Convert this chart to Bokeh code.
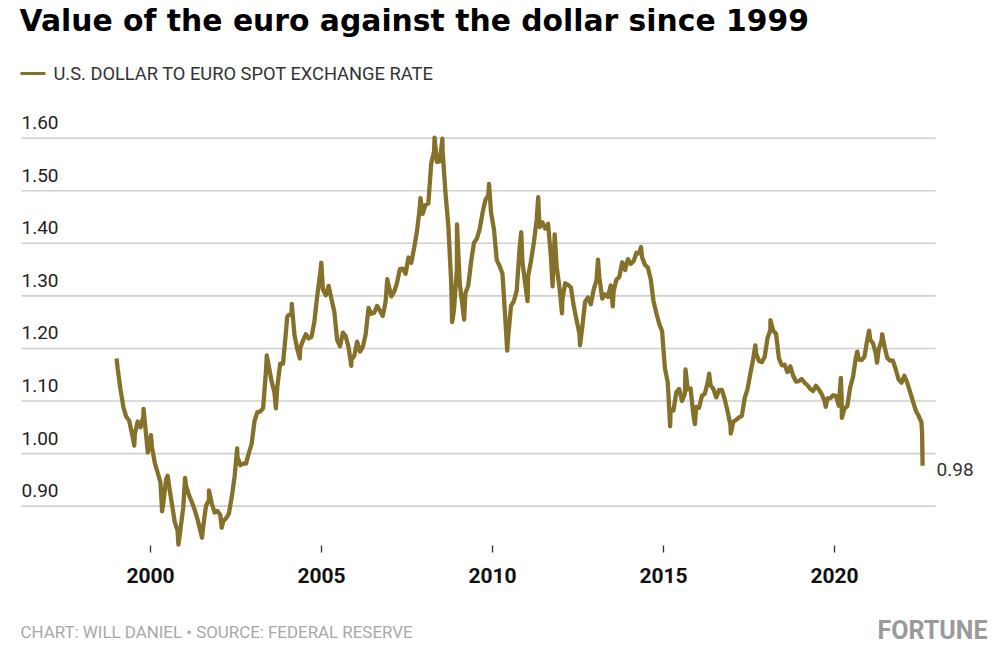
import datetime
from bokeh.plotting import figure
from bokeh.models import Range1d
from bokeh.core.properties import value
from bokeh.embed import file_html
from bokeh.resources import INLINE

# ---------------- data (monthly values) ----------------
rates_1999 = [1.161, 1.121, 1.088, 1.070, 1.063, 1.038, 1.037, 1.061, 1.050, 1.071, 1.033, 1.011]
rates_2000 = [1.013, 0.983, 0.964, 0.945, 0.906, 0.951, 0.939, 0.905, 0.870, 0.853, 0.855, 0.898]
rates_2001 = [0.938, 0.921, 0.908, 0.893, 0.875, 0.853, 0.862, 0.901, 0.911, 0.905, 0.888, 0.891]
rates_2002 = [0.883, 0.871, 0.877, 0.886, 0.917, 0.956, 0.994, 0.978, 0.981, 0.981, 1.001, 1.019]
rates_2003 = [1.062, 1.079, 1.080, 1.086, 1.156, 1.167, 1.137, 1.116, 1.127, 1.171, 1.171, 1.230]
rates_2004 = [1.264, 1.264, 1.226, 1.199, 1.200, 1.215, 1.227, 1.219, 1.222, 1.251, 1.300, 1.341]
rates_2005 = [1.312, 1.301, 1.319, 1.294, 1.270, 1.216, 1.204, 1.230, 1.223, 1.202, 1.179, 1.186]
rates_2006 = [1.213, 1.194, 1.203, 1.227, 1.277, 1.266, 1.268, 1.281, 1.272, 1.262, 1.289, 1.321]
rates_2007 = [1.299, 1.308, 1.325, 1.351, 1.352, 1.342, 1.373, 1.363, 1.391, 1.423, 1.468, 1.456]
rates_2008 = [1.473, 1.476, 1.552, 1.575, 1.555, 1.556, 1.576, 1.496, 1.434, 1.327, 1.274, 1.351]
rates_2009 = [1.324, 1.280, 1.305, 1.320, 1.365, 1.401, 1.409, 1.427, 1.458, 1.482, 1.491, 1.458]
rates_2010 = [1.427, 1.368, 1.357, 1.342, 1.256, 1.222, 1.281, 1.290, 1.310, 1.390, 1.365, 1.322]
rates_2011 = [1.337, 1.366, 1.401, 1.445, 1.431, 1.440, 1.428, 1.437, 1.375, 1.373, 1.356, 1.316]
rates_2012 = [1.291, 1.324, 1.321, 1.316, 1.281, 1.254, 1.228, 1.241, 1.289, 1.297, 1.284, 1.312]
rates_2013 = [1.330, 1.335, 1.295, 1.303, 1.298, 1.320, 1.309, 1.331, 1.336, 1.364, 1.349, 1.370]
rates_2014 = [1.361, 1.366, 1.382, 1.381, 1.373, 1.359, 1.354, 1.332, 1.290, 1.267, 1.247, 1.233]
rates_2015 = [1.162, 1.135, 1.084, 1.082, 1.117, 1.123, 1.100, 1.114, 1.122, 1.124, 1.073, 1.089]
rates_2016 = [1.087, 1.110, 1.114, 1.135, 1.130, 1.123, 1.107, 1.121, 1.121, 1.103, 1.080, 1.054]
rates_2017 = [1.061, 1.064, 1.069, 1.072, 1.106, 1.123, 1.153, 1.181, 1.191, 1.176, 1.174, 1.184]
rates_2018 = [1.220, 1.235, 1.234, 1.228, 1.181, 1.168, 1.169, 1.155, 1.166, 1.148, 1.137, 1.138]
rates_2019 = [1.142, 1.135, 1.130, 1.123, 1.119, 1.129, 1.122, 1.113, 1.100, 1.105, 1.105, 1.111]
rates_2020 = [1.110, 1.091, 1.106, 1.086, 1.090, 1.126, 1.146, 1.183, 1.179, 1.178, 1.184, 1.217]
rates_2021 = [1.217, 1.210, 1.190, 1.198, 1.215, 1.205, 1.182, 1.177, 1.177, 1.160, 1.141, 1.135]
rates_2022 = [1.148, 1.135, 1.118, 1.100, 1.082, 1.072, 1.060]

# local highs / lows visible in the chart
extreme_dates = ["1999-01-04", "1999-07-12", "1999-10-19", "1999-12-03", "2000-01-06",
                 "2000-05-04", "2000-07-03", "2000-10-26", "2001-01-05", "2001-07-05",
                 "2001-09-17", "2002-01-31", "2002-07-15", "2003-05-27", "2003-09-01",
                 "2003-12-31", "2004-02-18", "2004-05-14", "2004-12-30", "2005-11-15",
                 "2006-12-04", "2007-11-23", "2008-04-22", "2008-07-15", "2008-10-27",
                 "2008-12-18", "2009-03-04", "2009-11-25", "2010-06-07", "2010-11-04",
                 "2011-01-10", "2011-05-04", "2011-10-04", "2011-10-27", "2012-01-13",
                 "2012-07-24", "2013-02-01", "2013-07-09", "2014-05-06", "2015-03-13",
                 "2015-08-24", "2015-12-02", "2016-05-03", "2016-12-20", "2017-09-08",
                 "2018-02-16", "2019-09-30", "2020-03-09", "2020-03-20", "2020-09-01",
                 "2021-01-06", "2021-03-31", "2021-05-25", "2022-07-25", "2022-07-30"]
extreme_values = [1.181, 1.015, 1.085, 1.002, 1.035,
                  0.890, 0.958, 0.827, 0.954, 0.840,
                  0.930, 0.859, 1.010, 1.187, 1.086,
                  1.260, 1.285, 1.181, 1.363, 1.167,
                  1.332, 1.486, 1.601, 1.599, 1.250,
                  1.436, 1.255, 1.513, 1.196, 1.421,
                  1.290, 1.488, 1.318, 1.417, 1.267,
                  1.206, 1.369, 1.280, 1.393, 1.052,
                  1.160, 1.056, 1.152, 1.038, 1.206,
                  1.254, 1.089, 1.144, 1.068, 1.194,
                  1.234, 1.173, 1.227, 1.038, 0.977]

y_ticks = [0.90, 1.00, 1.10, 1.20, 1.30, 1.40, 1.50, 1.60]
y_tick_labels = ["0.90", "1.00", "1.10", "1.20", "1.30", "1.40", "1.50", "1.60"]
x_ticks = [2000, 2005, 2010, 2015, 2020]
x_tick_labels = ["2000", "2005", "2010", "2015", "2020"]
last_value_label = "0.98"

title_text = "Value of the euro against the dollar since 1999"
legend_text = "U.S. DOLLAR TO EURO SPOT EXCHANGE RATE"
footer_text = "CHART: WILL DANIEL \u2022 SOURCE: FEDERAL RESERVE"
brand_text = "FORTUNE"

# ---------------- build series ----------------
monthly = {1999: rates_1999, 2000: rates_2000, 2001: rates_2001, 2002: rates_2002,
           2003: rates_2003, 2004: rates_2004, 2005: rates_2005, 2006: rates_2006,
           2007: rates_2007, 2008: rates_2008, 2009: rates_2009, 2010: rates_2010,
           2011: rates_2011, 2012: rates_2012, 2013: rates_2013, 2014: rates_2014,
           2015: rates_2015, 2016: rates_2016, 2017: rates_2017, 2018: rates_2018,
           2019: rates_2019, 2020: rates_2020, 2021: rates_2021, 2022: rates_2022}


def dec_year(d):
    dt = datetime.date.fromisoformat(d)
    a = datetime.date(dt.year, 1, 1)
    b = datetime.date(dt.year + 1, 1, 1)
    return dt.year + (dt - a).days / (b - a).days


pts = []
for yr, vals in monthly.items():
    for i, v in enumerate(vals):
        pts.append((yr + (i + 0.5) / 12.0, v))
for d, v in zip(extreme_dates, extreme_values):
    pts.append((dec_year(d), v))
pts.sort()
xs = [q[0] for q in pts]
ys = [q[1] for q in pts]

LINE = "#86712b"
W, H = 994, 654

# whole canvas is the plotting frame; scales: 34.2 px / year, 525.7 px / unit
PX_PER_YEAR = 34.2
PX_PER_UNIT = 525.7
X0 = 2000 - 150 / PX_PER_YEAR
X1 = X0 + W / PX_PER_YEAR
Y1 = 1.0 + 453.1 / PX_PER_UNIT
Y0 = Y1 - H / PX_PER_UNIT


def fx(px):
    return X0 + px / PX_PER_YEAR


def fy(py):
    return Y1 - py / PX_PER_UNIT


p = figure(width=W, height=H, x_range=Range1d(X0, X1), y_range=Range1d(Y0, Y1),
           output_backend="svg", toolbar_location=None, title=None,
           x_axis_location=None, y_axis_location=None, min_border=0)
p.outline_line_color = None
p.grid.grid_line_color = None
p.background_fill_color = "white"
p.border_fill_color = "white"

# horizontal gridlines from x=21 to x=935
p.segment(x0=[fx(21)] * len(y_ticks), x1=[fx(935)] * len(y_ticks), y0=y_ticks, y1=y_ticks,
          line_color="#d0d0d0", line_width=1.6)

# y tick labels sitting above their gridlines
ydy = 15.5 / PX_PER_UNIT
p.text(x=[fx(21)] * len(y_ticks), y=[v + ydy for v in y_ticks], text=y_tick_labels,
       text_align="left", text_baseline="middle",
       text_font=value("Roboto"), text_font_size="19px", text_color="#222222")

# x ticks and labels
p.segment(x0=x_ticks, x1=x_ticks, y0=[fy(545)] * len(x_ticks), y1=[fy(552)] * len(x_ticks),
          line_color="#333333", line_width=1.3)
p.text(x=x_ticks, y=[fy(574.5)] * len(x_ticks), text=x_tick_labels,
       text_align="center", text_baseline="middle",
       text_font=value("Roboto"), text_font_style="bold", text_font_size="21px",
       text_color="#111111")

# the series
p.line(xs, ys, line_color=LINE, line_width=4.3, line_join="round")

# last value label
p.text(x=[xs[-1]], y=[ys[-1]], text=[last_value_label], x_offset=14, y_offset=4,
       text_align="left", text_baseline="middle",
       text_font=value("Roboto"), text_font_size="19px", text_color="#333333")

# title, legend, footer
p.text(x=[fx(19)], y=[fy(19.5)], text=[title_text], text_align="left", text_baseline="middle",
       text_font=value("DejaVu Sans"), text_font_style="bold", text_font_size="29.8px",
       text_color="#000000")
p.segment(x0=[fx(20)], x1=[fx(45)], y0=[fy(73)], y1=[fy(73)], line_color=LINE, line_width=3)
p.text(x=[fx(53)], y=[fy(73)], text=[legend_text], text_align="left", text_baseline="middle",
       text_font=value("Roboto"), text_font_size="18.3px", text_color="#333333")
p.text(x=[fx(20)], y=[fy(631.5)], text=[footer_text], text_align="left", text_baseline="middle",
       text_font=value("Roboto"), text_font_size="16.9px", text_color="#a8a8a8")
p.text(x=[fx(987)], y=[fy(630)], text=[brand_text], text_align="right", text_baseline="middle",
       text_font=value("Roboto"), text_font_style="bold", text_font_size="25px",
       text_color="#9a9a9a")

open("out.html", "w").write(file_html(p, INLINE))
